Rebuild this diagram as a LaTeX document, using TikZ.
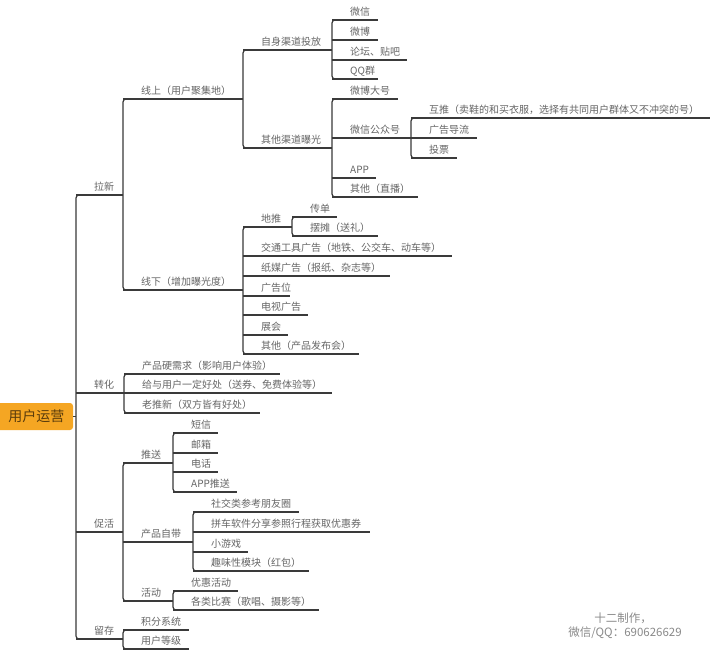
\documentclass[tikz,border=0pt]{standalone}
\usepackage{fontspec}
\setmainfont{Noto Sans CJK SC}
\usetikzlibrary{calc}
\definecolor{linegray}{HTML}{3A3A3A}
\definecolor{txtgray}{HTML}{666666}
\definecolor{rootfill}{HTML}{F5A623}
\definecolor{roottxt}{HTML}{5A3C0C}
\definecolor{wmgray}{HTML}{8A8A8A}
\tikzset{
  lbl/.style={font=\fontsize{10}{12}\selectfont, text=txtgray, inner sep=0pt, anchor=base west},
  ul/.style={draw=linegray, line width=1.2pt},
  br/.style={ul, rounded corners=3pt},
  rootbox/.style={fill=rootfill, rounded corners=3pt, minimum width=78pt, minimum height=27pt,
    inner sep=0pt, font=\fontsize{14}{16}\selectfont, text=roottxt},
  wm/.style={font=\fontsize{11.5}{13}\selectfont, text=wmgray, inner sep=0pt},
}
\newcommand\mmnode[5]{%
  \node[lbl] (#1) at ({#2+18},{#3-5}) {#5};
  \coordinate (#1-l) at (#2,#3);
  \coordinate (#1-r) at (#4,#3);
  \draw[ul] (#1-l) -- (#1-r);
}
\newcommand\mmbr[2]{%
  \draw[br] ($(#1-l)+(6,0)$) -- (#1-l) -- (#2-l) -- ($(#2-l)+(6,0)$);
}
\begin{document}
\begin{tikzpicture}[x=1pt,y=-1pt]
\useasboundingbox (0,0) rectangle (720,659);
\fill[white] (0,0) rectangle (720,659);

% root
\node[rootbox] (root) at (34,416.5) {\hspace*{5pt}用户运营};
\coordinate (rootj) at (76,416.5);
\draw[ul, line width=0.8pt] (root.east) -- (rootj);

% level 1
\mmnode{lx}{76}{195}{123}{拉新}
\mmnode{zh}{76}{393}{124}{转化}
\mmnode{ch}{76}{532}{123}{促活}
\mmnode{lc}{76}{639}{123}{留存}
\mmbr{lx}{lc}

% 拉新
\mmnode{xs}{123}{99}{243}{线上（用户聚集地）}
\mmnode{xx}{123}{290}{243}{线下（增加曝光度）}
\mmbr{xs}{xx}

\mmnode{zs}{243}{50}{332}{自身渠道投放}
\mmnode{qt}{243}{148}{332}{其他渠道曝光}
\mmbr{zs}{qt}

\mmnode{wx}{332}{20}{378}{微信}
\mmnode{wb}{332}{40}{378}{微博}
\mmnode{lt}{332}{60}{407}{论坛、贴吧}
\mmnode{qq}{332}{79}{378}{QQ群}
\mmbr{wx}{qq}

\mmnode{wbd}{332}{99}{398}{微博大号}
\mmnode{gzh}{332}{138}{411}{微信公众号}
\mmnode{app}{332}{178}{376}{APP}
\mmnode{zb}{332}{197}{418}{其他（直播）}
\mmbr{wbd}{zb}

\mmnode{ht}{411}{118}{710}{互推（卖鞋的和买衣服，选择有共同用户群体又不冲突的号）}
\mmnode{gg}{411}{138}{477}{广告导流}
\mmnode{tp}{411}{158}{457}{投票}
\mmbr{ht}{tp}

\mmnode{dt}{243}{227}{292}{地推}
\mmnode{jt}{243}{256}{452}{交通工具广告（地铁、公交车、动车等）}
\mmnode{zm}{243}{276}{390}{纸媒广告（报纸、杂志等）}
\mmnode{ggw}{243}{296}{290}{广告位}
\mmnode{ds}{243}{315}{308}{电视广告}
\mmnode{zhh}{243}{335}{288}{展会}
\mmnode{fb}{243}{354}{359}{其他（产品发布会）}
\mmbr{dt}{fb}

\mmnode{cd}{292}{217}{337}{传单}
\mmnode{bt}{292}{236}{378}{摆摊（送礼）}
\mmbr{cd}{bt}

% 转化
\mmnode{yp}{124}{374}{280}{产品硬需求（影响用户体验）}
\mmnode{hc}{124}{393}{332}{给与用户一定好处（送券、免费体验等）}
\mmnode{ltx}{124}{413}{260}{老推新（双方皆有好处）}
\mmbr{yp}{ltx}

% 促活
\mmnode{ts}{123}{463}{173}{推送}
\mmnode{cp}{123}{542}{193}{产品自带}
\mmnode{hd}{123}{601}{173}{活动}
\mmbr{ts}{hd}

\mmnode{dx}{173}{433}{218}{短信}
\mmnode{yx}{173}{453}{218}{邮箱}
\mmnode{dh}{173}{472}{218}{电话}
\mmnode{apt}{173}{492}{237}{APP推送}
\mmbr{dx}{apt}

\mmnode{sj}{193}{512}{299}{社交类参考朋友圈}
\mmnode{pc}{193}{532}{370}{拼车软件分享参照行程获取优惠券}
\mmnode{xyx}{193}{552}{248}{小游戏}
\mmnode{qw}{193}{571}{309}{趣味性模块（红包）}
\mmbr{sj}{qw}

\mmnode{yh}{173}{591}{238}{优惠活动}
\mmnode{bs}{173}{610}{319}{各类比赛（歌唱、摄影等）}
\mmbr{yh}{bs}

% 留存
\mmnode{jf}{123}{630}{189}{积分系统}
\mmnode{dj}{123}{649}{189}{用户等级}
\mmbr{jf}{dj}

% watermark
\node[wm] (wm1) at (623,618) {十二制作，};
\node[wm] (wm2) at (625,633) {微信/QQ：690626629};
\end{tikzpicture}
\end{document}
